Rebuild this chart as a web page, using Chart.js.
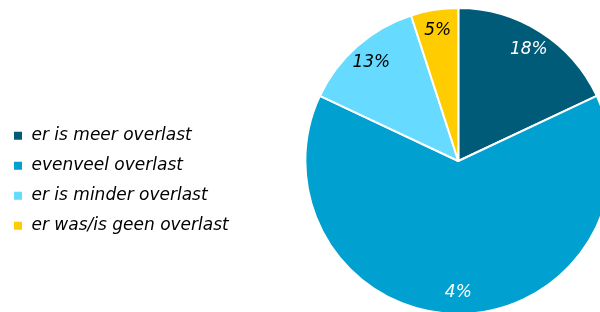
<!DOCTYPE html>
<html>
<head>
<meta charset="utf-8">
<script src="https://cdn.jsdelivr.net/npm/chart.js@4"></script>
<style>
  html, body { margin: 0; padding: 0; background: #fff; overflow: hidden; }
  #wrap { position: absolute; left: 0; top: 0; width: 678px; height: 315px; }
</style>
</head>
<body>
<div id="wrap"><canvas id="pie"></canvas></div>
<script>
const categories = ["er is meer overlast", "evenveel overlast", "er is minder overlast", "er was/is geen overlast"];
const values = [18, 64, 13, 5];
const sliceLabels = ["18%", "4%", "13%", "5%"];
const colors = ["#005B78", "#00A0D0", "#66DAFF", "#FFCC00"];
const labelColors = ["#ffffff", "#ffffff", "#000000", "#000000"];

// draws the percentage text inside each slice
const sliceText = {
  id: "sliceText",
  afterDatasetsDraw(chart) {
    const ctx = chart.ctx;
    const meta = chart.getDatasetMeta(0);
    ctx.save();
    ctx.font = "italic 17px 'DejaVu Sans'";
    ctx.textAlign = "center";
    ctx.textBaseline = "middle";
    meta.data.forEach((arc, i) => {
      const mid = (arc.startAngle + arc.endAngle) / 2;
      const r = arc.outerRadius * 0.86;
      ctx.fillStyle = labelColors[i];
      ctx.fillText(sliceLabels[i], arc.x + Math.cos(mid) * r, arc.y + Math.sin(mid) * r);
    });
    ctx.restore();
  }
};

new Chart(document.getElementById("pie"), {
  type: "pie",
  data: {
    labels: categories,
    datasets: [{
      data: values,
      backgroundColor: colors,
      borderColor: "#ffffff",
      borderWidth: 2
    }]
  },
  options: {
    responsive: true,
    maintainAspectRatio: false,
    animation: false,
    layout: { padding: { top: 7, bottom: 0 } },
    plugins: {
      tooltip: { enabled: false },
      legend: {
        position: "left",
        align: "center",
        title: { display: true, text: " ", padding: { top: 25, bottom: 0 } },
        labels: {
          boxWidth: 10,
          boxHeight: 10,
          padding: 13,
          color: "#000000",
          font: { family: "'DejaVu Sans'", size: 17, style: "italic" }
        }
      }
    }
  },
  plugins: [sliceText]
});
</script>
</body>
</html>
